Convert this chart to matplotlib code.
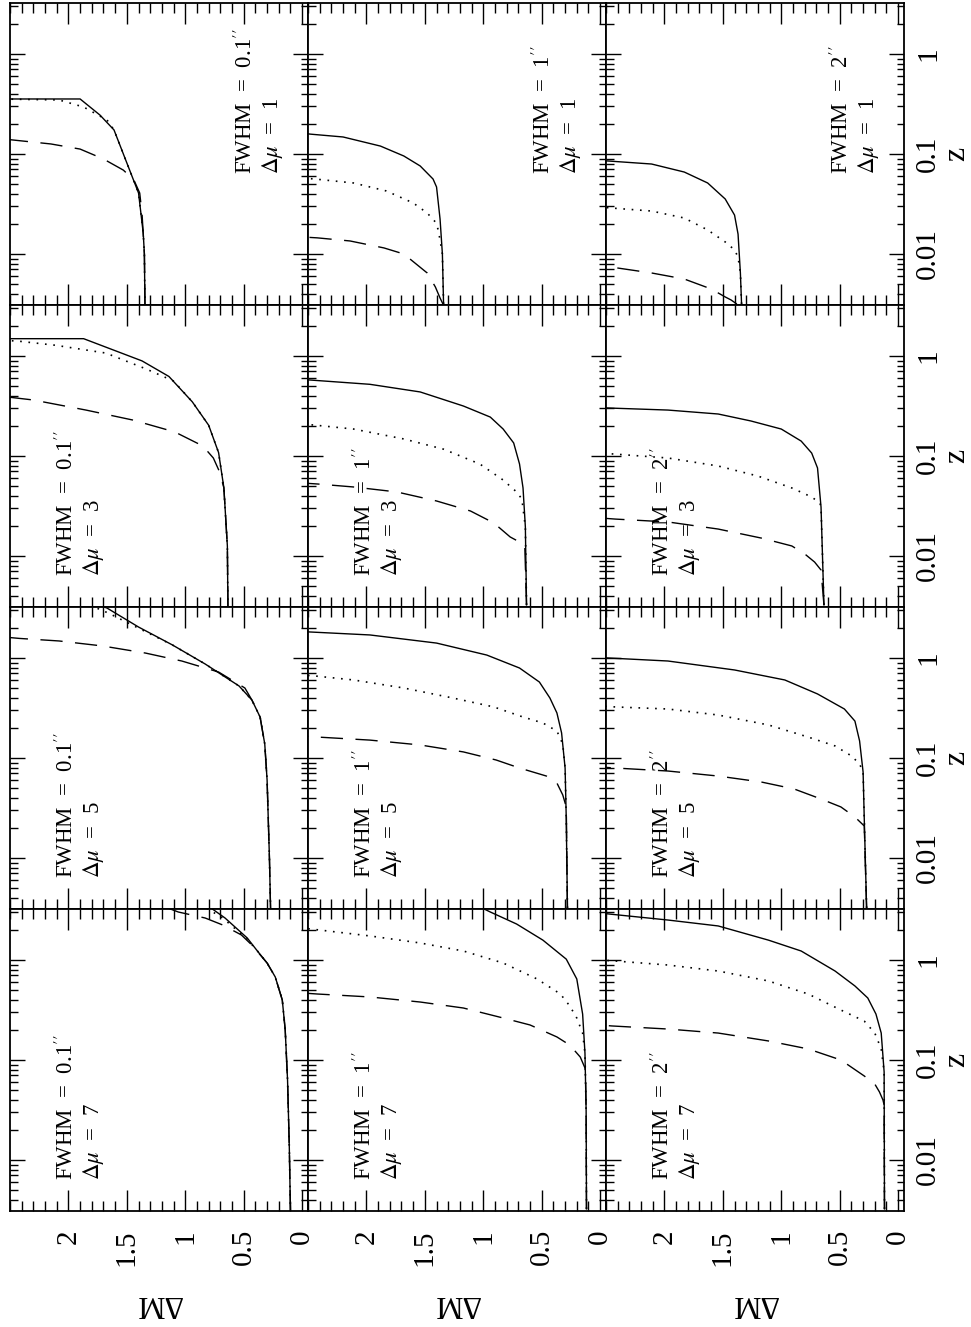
import numpy as np
import matplotlib
matplotlib.use("Agg")
import matplotlib.pyplot as plt
from matplotlib.ticker import FixedLocator, FixedFormatter, MultipleLocator, LogLocator, NullFormatter, FuncFormatter

plt.rcParams['font.family'] = ['Liberation Serif', 'DejaVu Serif']
plt.rcParams['mathtext.fontset'] = 'stix'

# panel grid: columns = FWHM, rows = delta mu
fwhm_cols = ["0.1", "1", "2"]
dmu_rows = [1, 3, 5, 7]

dm_ticks = [0, 0.5, 1, 1.5, 2]
dm_ticklabels = ["0", "0.5", "1", "1.5", "2"]

# each curve: (z, delta M)
# FWHM = 0.1"
p01_mu1 = {
    "solid": ([0.0030, 0.01, 0.0162, 0.0407, 0.0813, 0.174, 0.245, 0.355, 0.355],
              [1.345, 1.35, 1.36, 1.40, 1.50, 1.61, 1.73, 1.90, 2.60]),
    "dotted": ([0.0030, 0.01, 0.0162, 0.0407, 0.0813, 0.174, 0.219, 0.295, 0.347, 0.355],
               [1.345, 1.35, 1.36, 1.40, 1.50, 1.61, 1.67, 1.87, 2.08, 2.60]),
    "dashed": ([0.0030, 0.01, 0.0251, 0.0407, 0.055, 0.069, 0.0891, 0.112, 0.126, 0.141],
               [1.345, 1.35, 1.37, 1.39, 1.44, 1.53, 1.70, 1.90, 2.15, 2.55]),
}
p01_mu3 = {
    "solid": ([0.0030, 0.0126, 0.0482, 0.108, 0.203, 0.348, 0.624, 0.893, 1.49, 1.49],
              [0.635, 0.64, 0.67, 0.715, 0.80, 0.94, 1.14, 1.37, 1.87, 2.60]),
    "dotted": ([0.0030, 0.0126, 0.0482, 0.108, 0.203, 0.348, 0.562, 0.746, 1.07, 1.28, 1.40, 1.43],
               [0.635, 0.64, 0.67, 0.715, 0.80, 0.94, 1.10, 1.34, 1.68, 2.11, 2.41, 2.52]),
    "dashed": ([0.0030, 0.0126, 0.0482, 0.0708, 0.0955, 0.126, 0.174, 0.229, 0.288, 0.363, 0.389],
               [0.635, 0.64, 0.67, 0.71, 0.76, 0.85, 1.09, 1.45, 1.85, 2.30, 2.52]),
}
p01_mu5 = {
    "solid": ([0.0030, 0.01, 0.0245, 0.0603, 0.138, 0.257, 0.38, 0.525, 0.871, 1.35, 2.04, 3.16, 3.31],
              [0.27, 0.28, 0.29, 0.30, 0.32, 0.36, 0.43, 0.54, 0.83, 1.11, 1.40, 1.67, 1.72]),
    "dotted": ([0.0030, 0.01, 0.0245, 0.0603, 0.138, 0.257, 0.38, 0.525, 0.871, 1.35, 2.04, 2.82, 3.31],
               [0.27, 0.28, 0.29, 0.30, 0.32, 0.36, 0.43, 0.54, 0.83, 1.11, 1.42, 1.66, 1.80]),
    "dashed": ([0.0030, 0.01, 0.0245, 0.0603, 0.138, 0.257, 0.38, 0.501, 0.724, 0.933, 1.12, 1.32, 1.48, 1.57, 1.62],
               [0.27, 0.28, 0.29, 0.30, 0.32, 0.36, 0.43, 0.49, 0.715, 1.03, 1.34, 1.71, 2.08, 2.42, 2.55]),
}
p01_mu7 = {
    "solid": ([0.0030, 0.0135, 0.063, 0.2, 0.398, 0.676, 0.933, 1.26, 1.66, 2.63, 3.31],
              [0.10, 0.11, 0.125, 0.145, 0.17, 0.23, 0.30, 0.39, 0.47, 0.66, 0.78]),
    "dotted": ([0.0030, 0.0135, 0.063, 0.2, 0.398, 0.676, 0.933, 1.26, 1.66, 2.63, 3.31],
               [0.10, 0.11, 0.125, 0.145, 0.17, 0.23, 0.30, 0.39, 0.48, 0.68, 0.82]),
    "dashed": ([0.0030, 0.0135, 0.063, 0.2, 0.398, 0.676, 0.933, 1.41, 1.78, 2.24, 2.63, 3.02, 3.31],
               [0.10, 0.11, 0.125, 0.145, 0.17, 0.23, 0.30, 0.43, 0.52, 0.68, 0.83, 1.06, 1.15]),
}
# FWHM = 1"
p1_mu1 = {
    "solid": ([0.00316, 0.01, 0.0224, 0.0468, 0.0562, 0.0759, 0.0955, 0.12, 0.148, 0.158, 0.162],
              [1.34, 1.35, 1.37, 1.40, 1.43, 1.54, 1.68, 1.88, 2.20, 2.48, 2.55]),
    "dotted": ([0.00316, 0.01, 0.0174, 0.0209, 0.0257, 0.0324, 0.0427, 0.0513, 0.0562, 0.0575],
               [1.34, 1.35, 1.385, 1.41, 1.48, 1.60, 1.83, 2.11, 2.44, 2.55]),
    "dashed": ([0.00316, 0.00363, 0.00468, 0.00646, 0.01, 0.0115, 0.0135, 0.0145, 0.0148],
               [1.345, 1.37, 1.41, 1.48, 1.68, 1.85, 2.14, 2.42, 2.55]),
}
p1_mu3 = {
    "solid": ([0.00324, 0.0195, 0.0479, 0.0832, 0.135, 0.186, 0.245, 0.316, 0.437, 0.521, 0.575, 0.582],
              [0.63, 0.64, 0.66, 0.69, 0.74, 0.83, 0.94, 1.17, 1.54, 1.97, 2.48, 2.55]),
    "dotted": ([0.00324, 0.0195, 0.0372, 0.0437, 0.0575, 0.0832, 0.117, 0.148, 0.186, 0.204, 0.209],
               [0.63, 0.64, 0.67, 0.715, 0.83, 1.03, 1.34, 1.68, 2.11, 2.45, 2.55]),
    "dashed": ([0.00324, 0.0126, 0.0138, 0.0155, 0.0214, 0.0282, 0.0355, 0.0437, 0.049, 0.0525, 0.0537],
               [0.63, 0.645, 0.69, 0.77, 0.91, 1.11, 1.40, 1.74, 2.11, 2.42, 2.55]),
}
p1_mu5 = {
    "solid": ([0.00316, 0.0245, 0.0794, 0.178, 0.282, 0.398, 0.575, 0.794, 1.07, 1.41, 1.70, 1.82, 1.84],
              [0.28, 0.29, 0.30, 0.33, 0.37, 0.43, 0.52, 0.69, 0.97, 1.40, 1.97, 2.48, 2.55]),
    "dotted": ([0.00316, 0.0245, 0.0794, 0.138, 0.186, 0.224, 0.257, 0.324, 0.398, 0.501, 0.603, 0.661, 0.676],
               [0.28, 0.29, 0.30, 0.32, 0.37, 0.49, 0.66, 0.91, 1.26, 1.68, 2.11, 2.44, 2.55]),
    "dashed": ([0.00316, 0.0324, 0.0427, 0.0562, 0.066, 0.0794, 0.0955, 0.115, 0.135, 0.151, 0.162, 0.166],
               [0.28, 0.29, 0.32, 0.37, 0.46, 0.69, 0.89, 1.17, 1.54, 1.97, 2.42, 2.55]),
}
p1_mu7 = {
    "solid": ([0.00324, 0.0309, 0.117, 0.288, 0.646, 1.02, 1.58, 2.29, 3.02, 3.31],
              [0.117, 0.12, 0.13, 0.15, 0.20, 0.29, 0.49, 0.715, 0.94, 1.01]),
    "dotted": ([0.00324, 0.0309, 0.117, 0.186, 0.263, 0.347, 0.457, 0.646, 0.933, 1.23, 1.48, 1.74, 2.0, 2.09],
               [0.117, 0.12, 0.13, 0.15, 0.20, 0.26, 0.34, 0.54, 0.83, 1.17, 1.54, 1.97, 2.41, 2.55]),
    "dashed": ([0.00324, 0.0309, 0.0708, 0.0832, 0.107, 0.141, 0.17, 0.224, 0.263, 0.331, 0.38, 0.427, 0.457, 0.468],
               [0.117, 0.12, 0.125, 0.13, 0.17, 0.26, 0.37, 0.60, 0.83, 1.17, 1.54, 1.97, 2.42, 2.55]),
}
# FWHM = 2"
p2_mu1 = {
    "solid": ([0.00316, 0.00646, 0.0158, 0.0245, 0.0355, 0.0513, 0.066, 0.0794, 0.0851, 0.0861],
              [1.34, 1.35, 1.37, 1.40, 1.48, 1.63, 1.83, 2.11, 2.48, 2.55]),
    "dotted": ([0.00316, 0.00646, 0.0093, 0.011, 0.0132, 0.0174, 0.0229, 0.0269, 0.0288, 0.0295],
               [1.34, 1.35, 1.37, 1.40, 1.48, 1.63, 1.83, 2.11, 2.45, 2.55]),
    "dashed": ([0.00316, 0.00347, 0.00372, 0.00447, 0.00562, 0.00646, 0.00724, 0.00759],
               [1.38, 1.43, 1.48, 1.60, 1.83, 2.11, 2.40, 2.55]),
}
p2_mu3 = {
    "solid": ([0.00324, 0.0309, 0.0759, 0.107, 0.141, 0.186, 0.224, 0.263, 0.288, 0.302, 0.305],
              [0.635, 0.66, 0.69, 0.74, 0.83, 1.00, 1.26, 1.54, 1.97, 2.48, 2.55]),
    "dotted": ([0.00324, 0.0309, 0.0339, 0.0389, 0.0479, 0.063, 0.0794, 0.0955, 0.105, 0.107],
               [0.635, 0.66, 0.67, 0.74, 0.91, 1.20, 1.54, 1.97, 2.45, 2.55]),
    "dashed": ([0.00324, 0.00724, 0.0087, 0.0105, 0.0126, 0.0151, 0.0186, 0.0219, 0.0234, 0.024],
               [0.635, 0.66, 0.715, 0.80, 0.91, 1.17, 1.54, 1.97, 2.42, 2.55]),
}
p2_mu5 = {
    "solid": ([0.00316, 0.0245, 0.0724, 0.148, 0.234, 0.309, 0.437, 0.603, 0.759, 0.933, 1.0, 1.01],
              [0.27, 0.29, 0.30, 0.33, 0.37, 0.46, 0.69, 0.97, 1.40, 1.97, 2.48, 2.55]),
    "dotted": ([0.00316, 0.0245, 0.0724, 0.0871, 0.105, 0.132, 0.162, 0.214, 0.269, 0.309, 0.324, 0.331],
               [0.27, 0.29, 0.30, 0.33, 0.40, 0.54, 0.77, 1.11, 1.54, 1.97, 2.42, 2.55]),
    "dashed": ([0.00316, 0.0209, 0.0257, 0.0324, 0.0389, 0.049, 0.0575, 0.066, 0.0741, 0.0794, 0.0813],
               [0.27, 0.29, 0.37, 0.49, 0.66, 0.89, 1.17, 1.54, 1.97, 2.42, 2.55]),
}
p2_mu7 = {
    "solid": ([0.00324, 0.0759, 0.186, 0.288, 0.417, 0.55, 0.776, 1.23, 1.58, 2.19, 2.51, 2.88, 2.95],
              [0.117, 0.12, 0.145, 0.19, 0.26, 0.37, 0.54, 0.83, 1.11, 1.54, 1.97, 2.47, 2.55]),
    "dotted": ([0.00324, 0.0759, 0.129, 0.186, 0.245, 0.316, 0.457, 0.617, 0.776, 0.891, 0.977, 1.0],
               [0.117, 0.12, 0.145, 0.20, 0.29, 0.49, 0.77, 1.11, 1.54, 1.97, 2.42, 2.55]),
    "dashed": ([0.00324, 0.0355, 0.0398, 0.0479, 0.0575, 0.0692, 0.1, 0.129, 0.155, 0.186, 0.204, 0.219, 0.224],
               [0.117, 0.12, 0.13, 0.16, 0.20, 0.29, 0.49, 0.77, 1.11, 1.54, 1.97, 2.45, 2.55]),
}

panels = [
    [p01_mu1, p1_mu1, p2_mu1],
    [p01_mu3, p1_mu3, p2_mu3],
    [p01_mu5, p1_mu5, p2_mu5],
    [p01_mu7, p1_mu7, p2_mu7],
]

styles = {
    "solid": dict(linestyle="-", lw=1.0),
    "dotted": dict(linestyle=(0, (1, 4)), lw=1.2),
    "dashed": dict(linestyle=(0, (16, 9)), lw=1.0),
}

W, H = 971, 1327
fig = plt.figure(figsize=(W / 100, H / 100), dpi=100)
fig.patch.set_facecolor("white")

x0, y0, pw, ph = 10, 3, 298, 302

for r, dmu in enumerate(dmu_rows):
    for c, fw in enumerate(fwhm_cols):
        left = x0 + pw * c
        top = y0 + ph * r
        ax = fig.add_axes([left / W, (H - top - ph) / H, pw / W, ph / H])
        for key in ["solid", "dotted", "dashed"]:
            zz, dm = panels[r][c][key]
            ax.plot(dm, zz, color="black", **styles[key])

        ax.set_yscale("log")
        ax.set_xlim(2.5, -0.05)
        ax.set_ylim(10 ** -2.51, 10 ** 0.51)

        ax.xaxis.set_major_locator(FixedLocator(dm_ticks))
        ax.xaxis.set_major_formatter(FixedFormatter(dm_ticklabels))
        ax.xaxis.set_minor_locator(MultipleLocator(0.1))
        ax.yaxis.set_major_locator(LogLocator(base=10, numticks=10))
        ax.yaxis.set_major_formatter(FuncFormatter(lambda v, p: "%g" % v))
        ax.yaxis.set_minor_locator(LogLocator(base=10, subs=np.arange(2, 10), numticks=30))
        ax.yaxis.set_minor_formatter(NullFormatter())

        ax.tick_params(axis="x", which="both", direction="in", top=True, bottom=True,
                       labelbottom=(r == 3), labelrotation=90, labelsize=21, pad=13)
        ax.tick_params(axis="x", which="major", length=15, width=1)
        ax.tick_params(axis="x", which="minor", length=7.5, width=1)
        ax.tick_params(axis="y", which="both", direction="in", left=True, right=True,
                       labelleft=False, labelright=(c == 2), labelrotation=90,
                       labelsize=21, pad=8)
        ax.tick_params(axis="y", which="major", length=11, width=1)
        ax.tick_params(axis="y", which="minor", length=5.4, width=1)
        if c == 2:
            plt.setp(ax.get_yticklabels(), va="center")
        for s in ax.spines.values():
            s.set_linewidth(1.3)

        # panel annotation
        if dmu == 1:
            tx1, tx2, ty = 0.79, 0.88, 0.434
        else:
            tx1, tx2, ty = 0.19, 0.28, 0.103
        ax.text(tx1, ty, "FWHM  =  %s$''$" % fw, transform=ax.transAxes, rotation=90,
                ha="center", va="bottom", fontsize=16.5)
        ax.text(tx2, ty, r"$\Delta\mu$  =  %d" % dmu, transform=ax.transAxes, rotation=90,
                ha="center", va="bottom", fontsize=16.5)

    # z label on the right of each row
    fig.text(957 / W, (H - (y0 + ph * r + ph / 2)) / H, "z", rotation=90,
             ha="center", va="center", fontsize=23)

for c in range(3):
    fig.text((x0 + pw * c + pw / 2) / W, (H - 1303) / H, "ΔM", rotation=180,
             ha="center", va="center", fontsize=22)

fig.savefig("out.png", dpi=100, facecolor="white")
